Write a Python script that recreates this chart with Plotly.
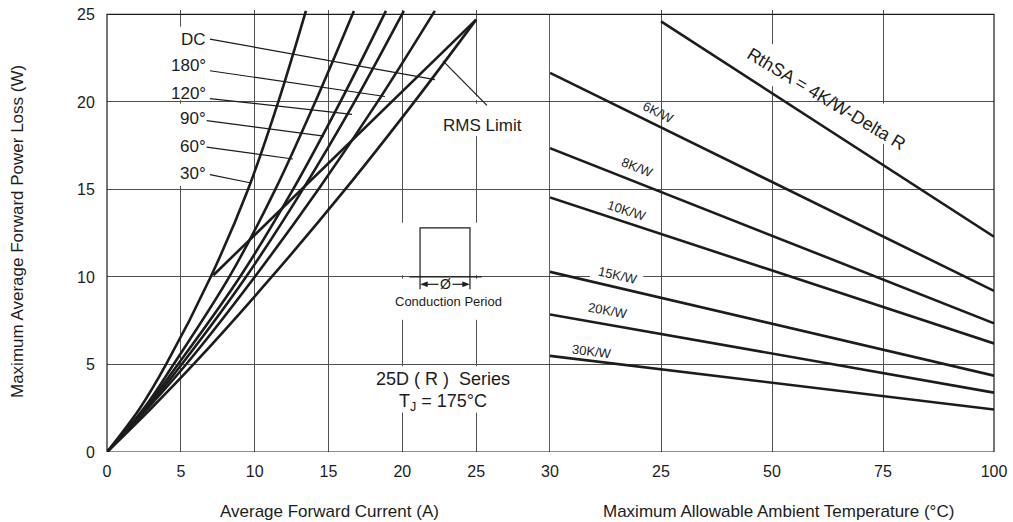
import plotly.graph_objects as go

# ---------------- data ----------------
# Left panel: power loss (W) levels and the average current (A) of each curve at those levels
power_levels = [0, 2.5, 5, 10, 15, 20, 25.2]
cur_30 = [0, 2.23, 4.0, 7.02, 9.55, 11.6, 13.47]
cur_60 = [0, 2.5, 4.5, 8.28, 11.4, 14.1, 16.72]
cur_90 = [0, 2.58, 4.8, 9.0, 12.6, 15.8, 18.89]
cur_120 = [0, 2.68, 5.05, 9.41, 13.26, 16.76, 20.1]
cur_180 = [0, 2.76, 5.35, 10.0, 14.31, 18.32, 22.2]
power_dc = [0, 2.5, 5, 10, 15, 20, 24.7]
cur_dc = [0, 3.0, 5.85, 11.15, 16.13, 20.81, 25.0]
rms_current = [7.2, 25.0]
rms_power = [10.1, 24.7]

# Right panel: ambient temperature vs. allowable power for each heat-sink resistance
ambient = [0, 100]
rth_labels = ["6K/W", "8K/W", "10K/W", "15K/W", "20K/W", "30K/W"]
rth_power_start = [21.66, 17.36, 14.54, 10.29, 7.86, 5.49]
rth_power_end = [9.2, 7.35, 6.2, 4.36, 3.39, 2.43]
delta_ambient = [25, 100]
delta_power = [24.6, 12.3]

x_ticks_left = [0, 5, 10, 15, 20, 25, 30]
x_ticks_right = [25, 50, 75, 100]
y_ticks = [0, 5, 10, 15, 20, 25]

FONT = "Liberation Sans, Arial, sans-serif"
INK = "#1c1c1c"
GRID = "#505050"
LW = 2.6

fig = go.Figure()

curves = [cur_30, cur_60, cur_90, cur_120, cur_180]
for c in curves:
    fig.add_trace(go.Scatter(x=c, y=power_levels, mode="lines", line=dict(color=INK, width=LW, shape="spline", smoothing=1.0),
                             xaxis="x", yaxis="y", hoverinfo="skip", showlegend=False))
fig.add_trace(go.Scatter(x=cur_dc, y=power_dc, mode="lines", line=dict(color=INK, width=LW, shape="spline", smoothing=1.0),
                         xaxis="x", yaxis="y", hoverinfo="skip", showlegend=False))
fig.add_trace(go.Scatter(x=rms_current, y=rms_power, mode="lines", line=dict(color=INK, width=LW),
                         xaxis="x", yaxis="y", hoverinfo="skip", showlegend=False))

for ps, pe in zip(rth_power_start, rth_power_end):
    fig.add_trace(go.Scatter(x=ambient, y=[ps, pe], mode="lines", line=dict(color=INK, width=LW),
                             xaxis="x2", yaxis="y", hoverinfo="skip", showlegend=False))
fig.add_trace(go.Scatter(x=delta_ambient, y=delta_power, mode="lines", line=dict(color=INK, width=LW),
                         xaxis="x2", yaxis="y", hoverinfo="skip", showlegend=False))

split = (550 - 107) / 887

shapes = []
# white masks over grid segments (below traces)
def mask(xref, x0, x1, y0, y1):
    shapes.append(dict(type="rect", xref=xref, yref="y", x0=x0, x1=x1, y0=y0, y1=y1,
                       fillcolor="white", line=dict(width=0), layer="between"))

mask("x", 4.85, 5.15, 15.2, 19.9)
mask("x", 4.85, 5.15, 20.1, 24.3)
for gx in (20, 25):
    mask("x", gx - 0.2, gx + 0.2, 7.55, 9.9)
    mask("x", gx - 0.2, gx + 0.2, 10.1, 13.1)
    mask("x", gx - 0.2, gx + 0.2, 2.25, 4.9)
mask("x", 24.8, 25.2, 18.05, 19.9)
mask("x", 24.8, 25.2, 20.1, 20.3)
mask("x2", 49.3, 50.7, 20.9, 23.3)
mask("x2", 74.3, 75.7, 17.6, 19.9)
mask("x2", 9.0, 21.0, 9.85, 10.15)

# frame
shapes.append(dict(type="rect", xref="paper", yref="y", x0=0, x1=1, y0=0, y1=25, line=dict(color=INK, width=1.2)))
shapes.append(dict(type="line", xref="x", yref="y", x0=30, x1=30, y0=0, y1=25, line=dict(color=INK, width=1.4)))

# leader lines for the curve labels
leaders = [((6.97, 23.59), (22.2, 21.27)), ((6.97, 21.78), (18.82, 20.31)), ((6.97, 20.19), (16.59, 19.29)),
           ((6.75, 18.93), (14.69, 18.04)), ((6.75, 17.42), (12.59, 16.74)), ((6.97, 15.85), (9.68, 15.38)),
           ((22.75, 22.34), (25.73, 19.8))]
for (x0, y0), (x1, y1) in leaders:
    shapes.append(dict(type="line", xref="x", yref="y", x0=x0, y0=y0, x1=x1, y1=y1, line=dict(color=INK, width=1.2)))

# conduction period diagram
thin = dict(color=INK, width=1.2)
shapes.append(dict(type="path", xref="x", yref="y", path="M 21.2 10 L 21.2 12.8 L 24.58 12.8 L 24.58 10", line=thin))
shapes.append(dict(type="line", xref="x", yref="y", x0=20.47, x1=25.37, y0=10, y1=10, line=thin))
shapes.append(dict(type="line", xref="x", yref="y", x0=21.2, x1=21.2, y0=9.3, y1=10, line=thin))
shapes.append(dict(type="line", xref="x", yref="y", x0=24.58, x1=24.58, y0=9.3, y1=10, line=thin))
shapes.append(dict(type="line", xref="x", yref="y", x0=21.6, x1=22.45, y0=9.58, y1=9.58, line=thin))
shapes.append(dict(type="line", xref="x", yref="y", x0=23.4, x1=24.18, y0=9.58, y1=9.58, line=thin))
shapes.append(dict(type="path", xref="x", yref="y", path="M 21.25 9.58 L 21.7 9.72 L 21.7 9.44 Z",
                   fillcolor=INK, line=dict(color=INK, width=0.5)))
shapes.append(dict(type="path", xref="x", yref="y", path="M 24.53 9.58 L 24.08 9.72 L 24.08 9.44 Z",
                   fillcolor=INK, line=dict(color=INK, width=0.5)))

annotations = []
def txt(text, x, y, xref="x", size=16, xanchor="center", angle=0, yref="y", yanchor="middle"):
    annotations.append(dict(text=text, x=x, y=y, xref=xref, yref=yref, showarrow=False, xanchor=xanchor,
                            yanchor=yanchor, textangle=angle, font=dict(family=FONT, size=size, color=INK)))

labels_left = [("DC", 23.59), ("180°", 22.06), ("120°", 20.48), ("90°", 19.06), ("60°", 17.48), ("30°", 15.89)]
for t, y in labels_left:
    txt(t, 6.85, y, xanchor="right", size=17)
txt("RMS Limit", 25.45, 18.67, size=17)
txt("25D ( R )  Series", 22.75, 4.19, size=18)
txt("T<sub>J</sub> = 175°C", 22.75, 2.83, size=18)
txt("Conduction Period", 23.15, 8.6, size=13)
txt("Ø", 22.92, 9.58, size=14)

rth_pos = [(24.4, 19.4, 26), (19.75, 16.25, 22), (17.27, 13.8, 18), (15.4, 10.1, 13), (13.0, 8.1, 10), (9.4, 5.75, 7)]
for lab, (x, y, a) in zip(rth_labels, rth_pos):
    txt(lab, x, y, xref="x2", size=13, angle=a)
txt("RthSA = 4K/W-Delta R", 62.3, 20.19, xref="x2", size=18, angle=31)

# axis titles
txt("Average Forward Current (A)", 0.2514, -0.1345, xref="paper", yref="paper", size=17)
txt("Maximum Allowable Ambient Temperature (°C)", 0.7565, -0.1345, xref="paper", yref="paper", size=17)
txt("Maximum Average Forward Power Loss (W)", -0.1003, 0.4978, xref="paper", yref="paper", size=17, angle=-90)

axis_common = dict(showgrid=True, gridcolor=GRID, gridwidth=1, zeroline=False, showline=False,
                   ticks="outside", tickcolor="rgba(0,0,0,0)",
                   tickfont=dict(family=FONT, size=16, color=INK), fixedrange=True)

fig.update_layout(
    width=1013, height=522,
    margin=dict(l=107, r=19, t=6, b=70),
    paper_bgcolor="white", plot_bgcolor="white",
    showlegend=False,
    xaxis=dict(domain=[0, split], range=[0, 30], tickvals=x_ticks_left, anchor="y", ticklen=5, **axis_common),
    xaxis2=dict(domain=[split, 1], range=[0, 100], tickvals=x_ticks_right, anchor="y", ticklen=5, **axis_common),
    yaxis=dict(domain=[0, 1], range=[0, 25.25], tickvals=y_ticks, anchor="x", ticklen=8, **axis_common),
    shapes=shapes,
    annotations=annotations,
)

fig.write_html("out.html", config={"displayModeBar": False},
               post_script="document.body.style.margin='0px';document.body.style.overflow='hidden';")
